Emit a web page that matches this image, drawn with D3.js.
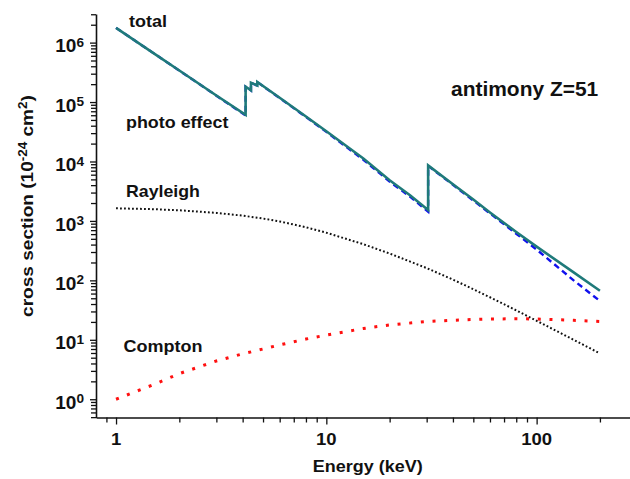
<!DOCTYPE html>
<html>
<head>
<meta charset="utf-8">
<script src="https://cdn.jsdelivr.net/npm/d3@7"></script>
<style>
  body { margin: 0; background: #fff; }
  text { font-family: "Liberation Sans", Arial, sans-serif; font-weight: bold; fill: #111; }
</style>
</head>
<body>
<div id="chart"></div>
<script>
// energies (keV) for total / photo curves, edges repeated for the jumps
var edgeEnergy = [1, 1.5, 2, 3, 4.132, 4.132, 4.381, 4.381, 4.698, 4.698, 6, 8, 10, 15, 20, 25, 30.49, 30.49, 40, 50, 60, 80, 100, 150, 200];
var totalValue = [1.77e6, 6.73e5, 3.39e5, 1.29e5, 6.1e4, 1.82e5, 1.58e5, 2.12e5, 1.9e5, 2.17e5, 1.18e5, 5.7e4, 3.23e4, 1.12e4, 4.85e3, 2.7e3, 1.53e3, 8.57e3, 4.15e3, 2.29e3, 1.39e3, 652, 370, 136, 67];
var photoValue = [1.77e6, 6.72e5, 3.38e5, 1.28e5, 5.95e4, 1.81e5, 1.57e5, 2.11e5, 1.89e5, 2.16e5, 1.17e5, 5.6e4, 3.15e4, 1.07e4, 4.6e3, 2.56e3, 1.43e3, 8.45e3, 4.05e3, 2.21e3, 1.34e3, 610, 330, 100, 45];

// energies for the smooth scattering curves
var scatterEnergy = [1, 1.5, 2, 3, 4, 5, 6, 8, 10, 15, 20, 30, 40, 50, 60, 80, 100, 150, 200];
var rayleighValue = [1630, 1578, 1510, 1365, 1227, 1097, 980, 783, 634, 406, 283, 161, 103, 71, 52, 31.3, 20.9, 10.0, 5.9];
var comptonValue = [1.0, 1.75, 2.7, 4.4, 5.8, 7.0, 8.2, 10.3, 12.0, 15.5, 17.8, 20.3, 21.3, 22.0, 22.4, 22.6, 22.4, 21.3, 20.3];

var xMajor = [1, 10, 100];
var yMajorExp = [0, 1, 2, 3, 4, 5, 6];

var W = 630, H = 479;
var plotLeft = 96, plotRight = 630, plotTop = 14, plotBottom = 417.5;

var svg = d3.select("#chart").append("svg")
    .attr("width", W).attr("height", H);

var x = d3.scaleLog().domain([0.803, 278]).range([plotLeft, plotRight]);
var y = d3.scaleLog().domain([0.493, 3.03e6]).range([plotBottom, plotTop]);

// minor ticks
var xMinor = [];
[0.1, 1, 10, 100].forEach(function(p) {
  for (var k = 2; k <= 9; k++) {
    var v = k * p;
    if (v >= 0.803 && v <= 278) xMinor.push(v);
  }
});
var yMinor = [];
for (var e = -1; e <= 6; e++) {
  for (var k = 2; k <= 9; k++) {
    var v = k * Math.pow(10, e);
    if (v >= 0.493 && v <= 3.03e6) yMinor.push(v);
  }
}

// axes
var gx = svg.append("g").attr("transform", "translate(0," + plotBottom + ")");
gx.call(d3.axisBottom(x).tickValues(xMinor).tickSize(5).tickSizeOuter(0).tickFormat(""));
gx.append("g").call(d3.axisBottom(x).tickValues(xMajor).tickSize(7).tickSizeOuter(0).tickFormat(""))
  .select(".domain").remove();

var gy = svg.append("g").attr("transform", "translate(" + plotLeft + ",0)");
gy.call(d3.axisLeft(y).tickValues(yMinor).tickSize(5).tickSizeOuter(0).tickFormat(""));
gy.append("g").call(d3.axisLeft(y).tickValues(yMajorExp.map(function(p) { return Math.pow(10, p); }))
    .tickSize(6).tickSizeOuter(0).tickFormat(""))
  .select(".domain").remove();

svg.selectAll(".domain").attr("stroke", "#111").attr("stroke-width", 1.6);
svg.selectAll(".tick line").attr("stroke", "#111").attr("stroke-width", 1.3);

var SX = 1.09;

// x tick labels
xMajor.forEach(function(v) {
  svg.append("text")
    .attr("transform", "translate(" + x(v) + "," + 445 + ") scale(" + SX + ",1)")
    .attr("text-anchor", "middle")
    .style("font-size", "17px")
    .text(v);
});

// y tick labels 10^n
yMajorExp.forEach(function(p) {
  var t = svg.append("text")
    .attr("transform", "translate(84," + (y(Math.pow(10, p)) + 9.6) + ") scale(" + SX + ",1)")
    .attr("text-anchor", "end")
    .style("font-size", "17.5px");
  t.append("tspan").text("10");
  t.append("tspan").attr("dy", -5.6).style("font-size", "12.5px").text(p);
});

// curves
var line = d3.line()
    .x(function(d) { return x(d[0]); })
    .y(function(d) { return y(d[1]); });

svg.append("path")
    .datum(d3.zip(scatterEnergy, rayleighValue))
    .attr("fill", "none").attr("stroke", "#111")
    .attr("stroke-width", 2).attr("stroke-dasharray", "1.8,2.2")
    .attr("d", line);

svg.append("path")
    .datum(d3.zip(scatterEnergy, comptonValue))
    .attr("fill", "none").attr("stroke", "#ff1010")
    .attr("stroke-width", 3).attr("stroke-dasharray", "3,8.7")
    .attr("d", line);

svg.append("path")
    .datum(d3.zip(edgeEnergy, photoValue))
    .attr("fill", "none").attr("stroke", "#1010ee")
    .attr("stroke-width", 2.4).attr("stroke-dasharray", "6,4")
    .attr("d", line);

svg.append("path")
    .datum(d3.zip(edgeEnergy, totalValue))
    .attr("fill", "none").attr("stroke", "#1f7a7a")
    .attr("stroke-width", 2.6)
    .attr("stroke-linejoin", "miter")
    .attr("d", line);

// labels, stretched horizontally to the reference width
function label(str, px, py, size, width, anchor, rotate) {
  var g = svg.append("g");
  var t = g.append("text")
    .attr("text-anchor", anchor || "start")
    .style("font-size", size + "px");
  if (typeof str === "function") str(t); else t.text(str);
  var w = t.node().getBBox().width;
  var s = width / w;
  g.attr("transform", "translate(" + px + "," + py + ")" + (rotate ? " rotate(-90)" : "") + " scale(" + s + ",1)");
  return g;
}

label("total", 129, 27, 16.5, 38);
label("photo effect", 126, 128, 16.5, 103);
label("Rayleigh", 126, 196.5, 16.5, 74);
label("Compton", 123.5, 351.5, 16.5, 79);
label("antimony Z=51", 451, 96, 19.5, 147.5);
label("Energy (keV)", 367.7, 472, 16, 110, "middle");
label(function(t) {
  t.append("tspan").text("cross section (10");
  t.append("tspan").attr("dy", -6).style("font-size", "12px").text("-24");
  t.append("tspan").attr("dy", 6).text(" cm");
  t.append("tspan").attr("dy", -6).style("font-size", "12px").text("2");
  t.append("tspan").attr("dy", 6).text(")");
}, 33, 206, 17, 222, "middle", true);
</script>
</body>
</html>
